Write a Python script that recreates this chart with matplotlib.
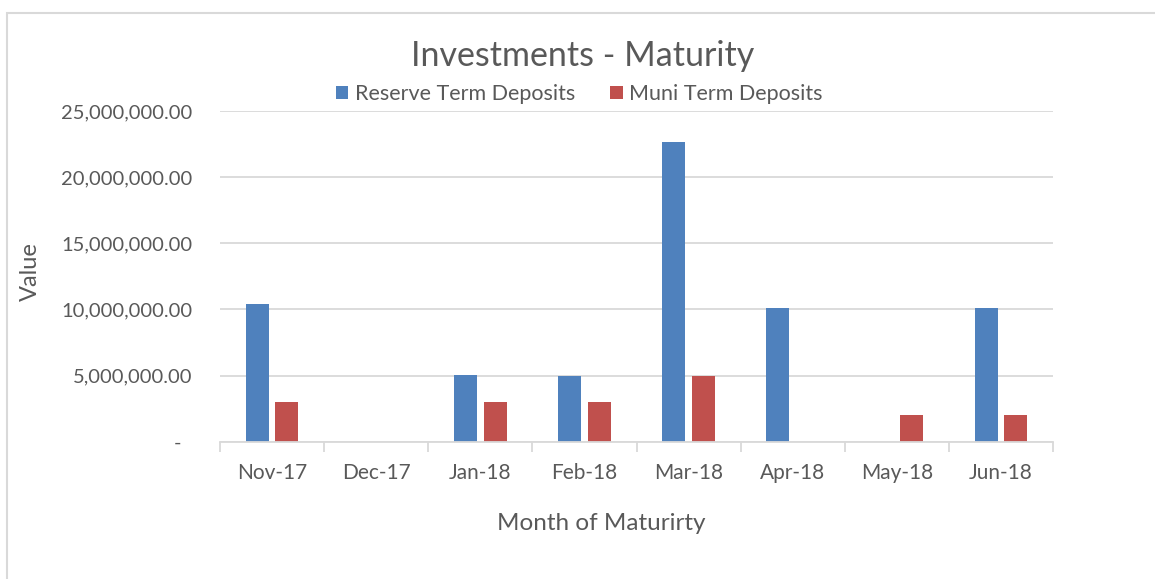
import matplotlib
matplotlib.use("Agg")
import matplotlib.pyplot as plt
import matplotlib.patches as patches
import numpy as np
from matplotlib.ticker import FuncFormatter

# chart data
months = ["Nov-17", "Dec-17", "Jan-18", "Feb-18", "Mar-18", "Apr-18", "May-18", "Jun-18"]
reserveTerm = [10430000, 0, 5070000, 5000000, 22650000, 10110000, 0, 10100000]
muniTerm = [3000000, 0, 3000000, 3000000, 5000000, 0, 2000000, 2000000]
yTicks = [0, 5000000, 10000000, 15000000, 20000000, 25000000]

BLUE = "#4F81BD"
RED = "#C0504D"
TEXT = "#595959"
GRID = "#D9D9D9"

plt.rcParams['font.family'] = ['Lato', 'DejaVu Sans']

def money(v, pos):
    if v == 0:
        return "-  "
    return "{:,.2f}".format(v)

fig = plt.figure(figsize=(11.55, 5.79), dpi=100)
axe = fig.add_axes([220 / 1155, 1 - 441.7 / 579, (1053 - 220) / 1155, (441.7 - 111) / 579])

# chart border (only top and left visible in the crop)
fig.patches.append(patches.Rectangle((7 / 1155, -0.05), 1.2, 1 - 13 / 579 + 0.05,
                                     transform=fig.transFigure, fill=False,
                                     edgecolor=GRID, linewidth=1.5))

x = np.arange(len(months))
width = 0.22
axe.bar(x - 0.143, reserveTerm, width, color=BLUE, label="Reserve Term Deposits", zorder=3)
axe.bar(x + 0.143, muniTerm, width, color=RED, label="Muni Term Deposits", zorder=3)

axe.set_xlim(-0.5, len(months) - 0.5)
axe.set_ylim(0, 25000000)
axe.set_yticks(yTicks)
axe.yaxis.set_major_formatter(FuncFormatter(money))
axe.grid(axis="y", color=GRID, linewidth=1.3, zorder=0)

axe.set_xticks(x)
axe.set_xticklabels(months)
axe.set_xticks(np.arange(-0.5, len(months)), minor=True)
axe.tick_params(axis="x", which="major", length=0, pad=15, labelsize=15, labelcolor=TEXT)
axe.tick_params(axis="x", which="minor", length=7, width=1.3, color=GRID)
axe.tick_params(axis="y", length=0, pad=20, labelsize=14.5, labelcolor=TEXT)

for side in ["top", "right", "left"]:
    axe.spines[side].set_visible(False)
axe.spines["bottom"].set_color(GRID)
axe.spines["bottom"].set_linewidth(1.3)
axe.spines["bottom"].set_zorder(4)

fig.text(583 / 1155, 1 - 56 / 579, "Investments - Maturity", ha="center", va="center",
         fontsize=24.5, color=TEXT)
fig.text(601 / 1155, 1 - 523 / 579, "Month of Maturirty", ha="center", va="center",
         fontsize=17.5, color=TEXT)
fig.text(30 / 1155, 1 - 272 / 579, "Value", ha="center", va="center", rotation=90,
         fontsize=17, color=TEXT)

leg = fig.legend(loc="center", bbox_to_anchor=(579 / 1155, 1 - 94 / 579), ncol=2,
                 frameon=False, fontsize=15.5, handlelength=0.6, handleheight=0.6,
                 handletextpad=0.3, columnspacing=1.6, borderpad=0)
for t in leg.get_texts():
    t.set_color(TEXT)

fig.savefig("out.png", dpi=100)
